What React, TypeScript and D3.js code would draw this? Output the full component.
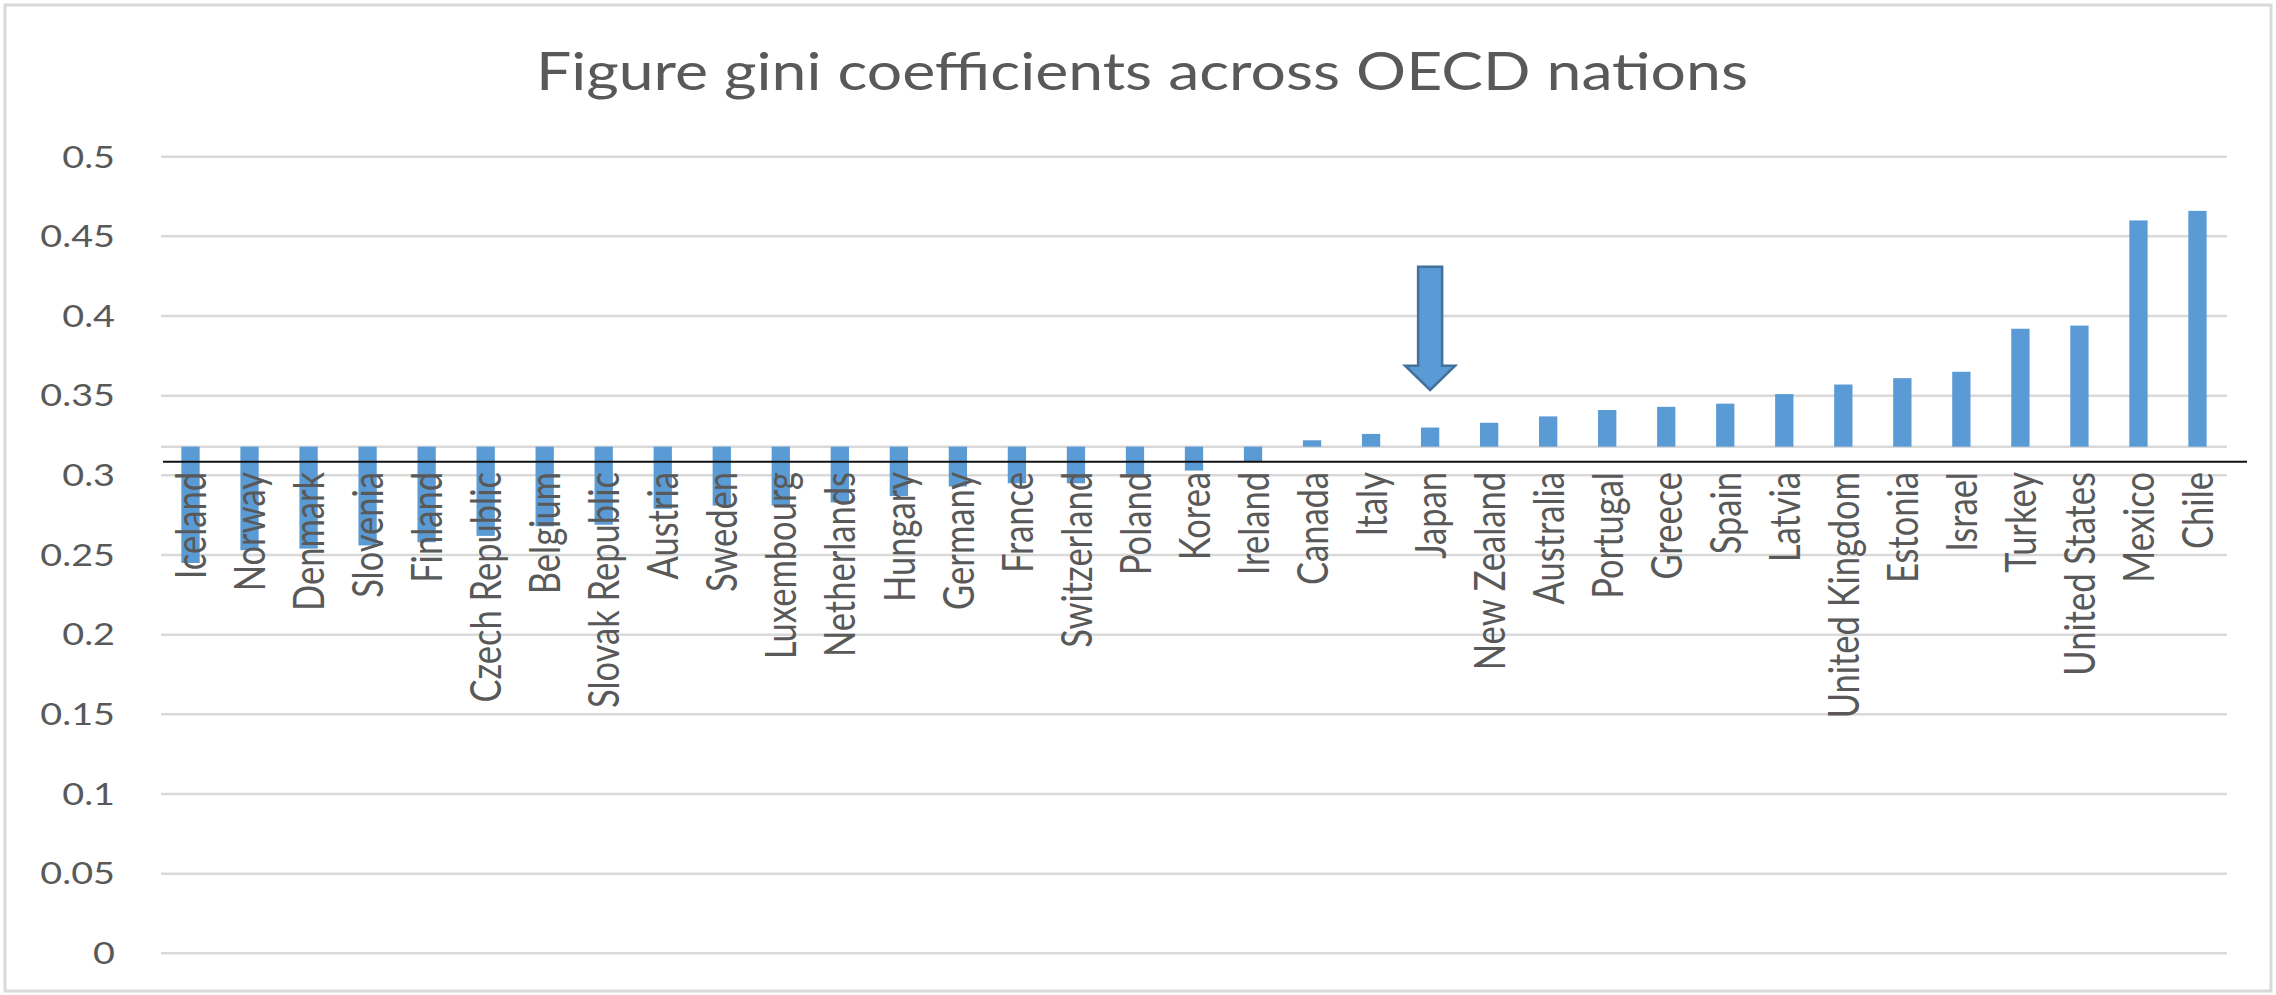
import React from 'react';
import * as d3 from 'd3';

const W = 2276;
const H = 995;

const title = 'Figure gini coefficients across OECD nations';

const countries = [
  'Iceland', 'Norway', 'Denmark', 'Slovenia', 'Finland', 'Czech Republic', 'Belgium',
  'Slovak Republic', 'Austria', 'Sweden', 'Luxembourg', 'Netherlands', 'Hungary', 'Germany',
  'France', 'Switzerland', 'Poland', 'Korea', 'Ireland', 'Canada', 'Italy', 'Japan',
  'New Zealand', 'Australia', 'Portugal', 'Greece', 'Spain', 'Latvia', 'United Kingdom',
  'Estonia', 'Israel', 'Turkey', 'United States', 'Mexico', 'Chile',
];

const gini = [
  0.245, 0.253, 0.254, 0.256, 0.258, 0.262, 0.268,
  0.269, 0.279, 0.281, 0.281, 0.283, 0.287, 0.293,
  0.295, 0.295, 0.299, 0.303, 0.309, 0.322, 0.326, 0.330,
  0.333, 0.337, 0.341, 0.343, 0.345, 0.351, 0.357,
  0.361, 0.365, 0.392, 0.394, 0.460, 0.466,
];

const yTicks = [0, 0.05, 0.1, 0.15, 0.2, 0.25, 0.3, 0.35, 0.4, 0.45, 0.5];
const yTickLabels = ['0', '0.05', '0.1', '0.15', '0.2', '0.25', '0.3', '0.35', '0.4', '0.45', '0.5'];

// value where the category axis crosses the value axis (bars grow from here)
const axisCross = 0.318;
// level of the dark reference rule drawn across the chart
const referenceLevel = 0.3085;
// country pointed at by the arrow, and the arrow's extent in value units
const highlighted = 'Japan';
const arrowTop = 0.431;
const arrowShoulder = 0.3688;
const arrowTip = 0.3536;

const FONT = 'Lato, "Open Sans", sans-serif';
const TEXT = '#595959';
const GRID = '#d9d9d9';
const BAR = '#5b9bd5';
const SX = 1.26; // horizontal stretch of the text glyphs

export default function App() {
  const x = d3.scaleBand<string>().domain(countries).range([161, 2227]).padding(0);
  const y = d3.scaleLinear().domain([0, 0.5]).range([953.3, 156.7]);
  const bw = x.bandwidth();
  const barW = bw * 0.31;
  const base = y(axisCross);

  const ax = (x(highlighted) as number) + bw / 2;
  const aTop = y(arrowTop);
  const aSh = y(arrowShoulder);
  const aTip = y(arrowTip);
  const arrowPath = d3.path();
  arrowPath.moveTo(ax - 12, aTop);
  arrowPath.lineTo(ax + 12, aTop);
  arrowPath.lineTo(ax + 12, aSh);
  arrowPath.lineTo(ax + 25, aSh);
  arrowPath.lineTo(ax, aTip);
  arrowPath.lineTo(ax - 25, aSh);
  arrowPath.lineTo(ax - 12, aSh);
  arrowPath.closePath();

  return (
    <svg
      width={W}
      height={H}
      viewBox={`0 0 ${W} ${H}`}
      style={{ position: 'absolute', left: 0, top: 0, display: 'block', background: '#fff' }}
    >
      <rect x={0} y={0} width={W} height={H} fill="#fff" />
      <rect x={5} y={5} width={W - 10} height={H - 9} fill="none" stroke={GRID} strokeWidth={3} />

      <text
        x={536}
        y={90}
        fontFamily={FONT}
        fontSize={52}
        fill={TEXT}
        textLength={1212}
        lengthAdjust="spacingAndGlyphs"
      >
        {title}
      </text>

      {/* horizontal gridlines */}
      {yTicks.map((t) => (
        <line key={`g${t}`} x1={161} x2={2227} y1={y(t)} y2={y(t)} stroke={GRID} strokeWidth={2.5} />
      ))}
      {/* category axis line */}
      <line x1={161} x2={2227} y1={base} y2={base} stroke={GRID} strokeWidth={2.5} />

      {/* value axis labels */}
      {yTicks.map((t, i) => (
        <g key={`t${t}`} transform={`translate(115,${y(t)}) scale(${SX},1)`}>
          <text textAnchor="end" dy="0.36em" fontFamily={FONT} fontSize={30} fill={TEXT}>
            {yTickLabels[i]}
          </text>
        </g>
      ))}

      {/* bars drawn from the axis crossing value */}
      {countries.map((c, i) => {
        const v = gini[i];
        const top = Math.min(y(v), base);
        const h = Math.abs(y(v) - base);
        return (
          <rect
            key={c}
            x={(x(c) as number) + (bw - barW) / 2}
            y={top}
            width={barW}
            height={h}
            fill={BAR}
          />
        );
      })}

      {/* dark reference rule */}
      <line
        x1={163}
        x2={2247}
        y1={y(referenceLevel)}
        y2={y(referenceLevel)}
        stroke="#111"
        strokeWidth={2}
      />

      {/* category labels */}
      {countries.map((c) => (
        <g
          key={`l${c}`}
          transform={`translate(${(x(c) as number) + bw / 2},472) scale(${SX},1) rotate(-90)`}
        >
          <text textAnchor="end" dy="0.36em" fontFamily={FONT} fontSize={34.5} fill={TEXT}>
            {c}
          </text>
        </g>
      ))}

      {/* arrow pointing at the highlighted country */}
      <path d={arrowPath.toString()} fill={BAR} stroke="#41719c" strokeWidth={2.5} strokeLinejoin="miter" />
    </svg>
  );
}
